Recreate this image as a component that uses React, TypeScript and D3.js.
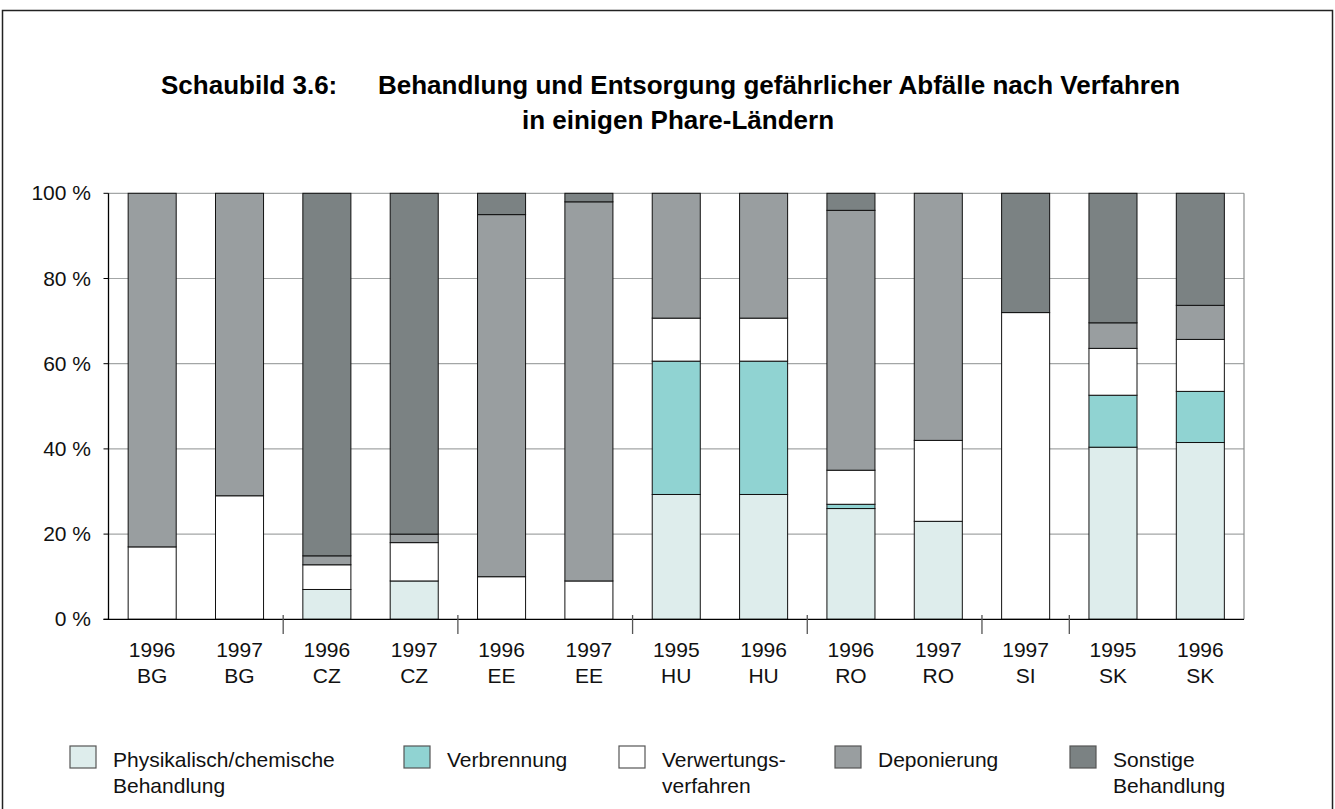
import React from "react";
import * as d3 from "d3";

const years = ["1996", "1997", "1996", "1997", "1996", "1997", "1995", "1996", "1996", "1997", "1997", "1995", "1996"];
const countries = ["BG", "BG", "CZ", "CZ", "EE", "EE", "HU", "HU", "RO", "RO", "SI", "SK", "SK"];

const physChem = [0, 0, 7, 9, 0, 0, 29.3, 29.3, 26, 23, 0, 40.4, 41.5];
const verbrennung = [0, 0, 0, 0, 0, 0, 31.3, 31.3, 1, 0, 0, 12.2, 12];
const verwertung = [17, 29, 5.8, 9, 10, 9, 10.1, 10.1, 8, 19, 72, 11, 12.2];
const deponierung = [83, 71, 2.1, 2, 85, 89, 29.3, 29.3, 61, 58, 0, 6, 8];
const sonstige = [0, 0, 85.1, 80, 5, 2, 0, 0, 4, 0, 28, 30.4, 26.3];

const yTicks = [0, 20, 40, 60, 80, 100];
const groupBoundaries = [2, 4, 6, 8, 10, 11];

const seriesNames = ["phys", "verbr", "verw", "depon", "sonst"];
const seriesLabels = [
  ["Physikalisch/chemische", "Behandlung"],
  ["Verbrennung"],
  ["Verwertungs-", "verfahren"],
  ["Deponierung"],
  ["Sonstige", "Behandlung"],
];
const seriesColors = ["#deedec", "#90d3d2", "#ffffff", "#999ea0", "#7b8283"];
const legendX = [70, 404, 619, 835, 1070];

const W = 1335;
const H = 809;
const FONT = "'Liberation Sans', Arial, Helvetica, sans-serif";

export default function App() {
  const x0 = 108.5;
  const x1 = 1244;
  const yTop = 193.3;
  const yBot = 619.3;

  const idx = years.map((_, i) => String(i));
  const x = d3.scaleBand<string>().domain(idx).range([x0, x1]).paddingInner(0.45).paddingOuter(0.225);
  const step = (x1 - x0) / years.length;
  const y = d3.scaleLinear().domain([0, 100]).range([yBot, yTop]);

  const table = years.map((_, i) => ({
    phys: physChem[i],
    verbr: verbrennung[i],
    verw: verwertung[i],
    depon: deponierung[i],
    sonst: sonstige[i],
  }));
  const stack = d3.stack<any>().keys(seriesNames);
  const series = stack(table);

  return (
    <svg width={W} height={H} style={{ position: "absolute", left: 0, top: 0, fontFamily: FONT }}>
      <rect x={0} y={0} width={W} height={H} fill="#fff" />
      {/* page frame */}
      <rect x={2.5} y={10.5} width={1330} height={840} fill="none" stroke="#222" strokeWidth={1.5} />

      {/* title */}
      <text x={161} y={94} fontSize={26} fontWeight="bold" fill="#000">Schaubild 3.6:</text>
      <text x={378} y={94} fontSize={26} fontWeight="bold" fill="#000">
        Behandlung und Entsorgung gefährlicher Abfälle nach Verfahren
      </text>
      <text x={678} y={129} fontSize={26} fontWeight="bold" fill="#000" textAnchor="middle">
        in einigen Phare-Ländern
      </text>

      {/* gridlines */}
      {yTicks.filter((t) => t > 0).map((t) => (
        <line key={"g" + t} x1={x0} x2={x1} y1={y(t)} y2={y(t)} stroke="#a3a6a6" strokeWidth={1.2} />
      ))}
      <line x1={x1} x2={x1} y1={yTop} y2={yBot} stroke="#8a8d8d" strokeWidth={1.2} />

      {/* bars */}
      {series.map((s, si) =>
        s.map((d, i) => {
          const h = y(d[0]) - y(d[1]);
          if (h <= 0.01) return null;
          return (
            <rect
              key={si + "-" + i}
              x={x(String(i))}
              y={y(d[1])}
              width={x.bandwidth()}
              height={h}
              fill={seriesColors[si]}
              stroke="#111"
              strokeWidth={1}
            />
          );
        })
      )}

      {/* y axis */}
      <line x1={x0} x2={x0} y1={yTop} y2={yBot} stroke="#000" strokeWidth={1.3} />
      {yTicks.map((t) => (
        <g key={"t" + t}>
          <line x1={x0 - 5} x2={x0} y1={y(t)} y2={y(t)} stroke="#000" strokeWidth={1} />
          <text x={91} y={y(t) + 7} fontSize={21} textAnchor="end" fill="#111">
            {t} %
          </text>
        </g>
      ))}

      {/* x axis */}
      <line x1={x0 - 5} x2={x1} y1={yBot} y2={yBot} stroke="#000" strokeWidth={1.3} />
      {groupBoundaries.map((b) => (
        <line key={"b" + b} x1={x0 + b * step} x2={x0 + b * step} y1={615} y2={634} stroke="#555" strokeWidth={1.3} />
      ))}
      {years.map((yr, i) => {
        const cx = (x(String(i)) as number) + x.bandwidth() / 2;
        return (
          <g key={"l" + i}>
            <text x={cx} y={657} fontSize={21} textAnchor="middle" fill="#111">{yr}</text>
            <text x={cx} y={683} fontSize={21} textAnchor="middle" fill="#111">{countries[i]}</text>
          </g>
        );
      })}

      {/* legend */}
      {seriesLabels.map((lines, i) => (
        <g key={"lg" + i}>
          <rect x={legendX[i]} y={746} width={26} height={22} fill={seriesColors[i]} stroke="#555" strokeWidth={1.2} />
          {lines.map((ln, j) => (
            <text key={j} x={legendX[i] + 43} y={766.7 + j * 26.6} fontSize={21} fill="#111">
              {ln}
            </text>
          ))}
        </g>
      ))}
    </svg>
  );
}
